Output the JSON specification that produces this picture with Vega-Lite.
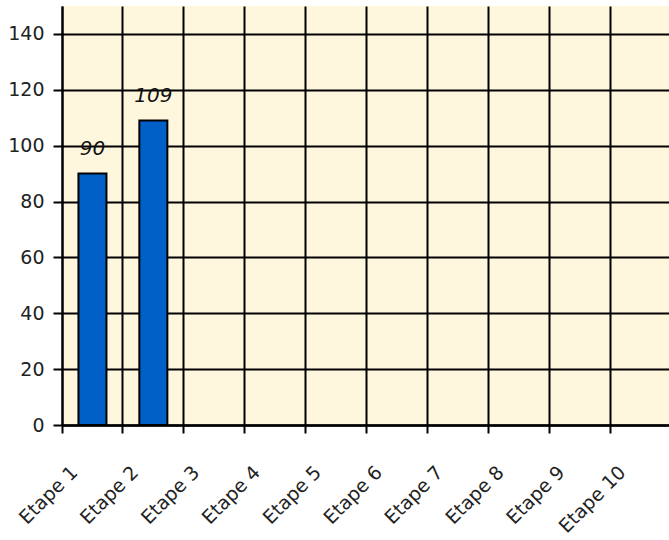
{
  "$schema": "https://vega.github.io/schema/vega-lite/v6.json",
  "autosize": "none",
  "padding": {"left": 62, "top": 6, "right": 0, "bottom": 115},
  "width": 609,
  "height": 419,
  "background": "white",
  "config": {
    "view": {"fill": "#FEF7DD", "stroke": null},
    "font": "DejaVu Sans"
  },
  "data": {
    "values": [
      {"etape": "Etape 1", "valeur": 90},
      {"etape": "Etape 2", "valeur": 109},
      {"etape": "Etape 3", "valeur": null},
      {"etape": "Etape 4", "valeur": null},
      {"etape": "Etape 5", "valeur": null},
      {"etape": "Etape 6", "valeur": null},
      {"etape": "Etape 7", "valeur": null},
      {"etape": "Etape 8", "valeur": null},
      {"etape": "Etape 9", "valeur": null},
      {"etape": "Etape 10", "valeur": null}
    ]
  },
  "encoding": {
    "x": {
      "field": "etape",
      "type": "nominal",
      "sort": null,
      "scale": {
        "domain": ["Etape 1", "Etape 2", "Etape 3", "Etape 4", "Etape 5", "Etape 6", "Etape 7", "Etape 8", "Etape 9", "Etape 10"],
        "paddingInner": 0,
        "paddingOuter": 0
      },
      "axis": {
        "title": null,
        "bandPosition": 0,
        "grid": true,
        "gridColor": "#000000",
        "gridWidth": 2,
        "gridOpacity": 1,
        "domainColor": "#000000",
        "domainWidth": 2.5,
        "tickColor": "#000000",
        "tickWidth": 2,
        "tickSize": 8,
        "labelAngle": -45,
        "labelAlign": "right",
        "labelBaseline": "middle",
        "labelOffset": -18,
        "labelPadding": 36,
        "labelFontSize": 19,
        "labelColor": "#222222",
        "labelFont": "DejaVu Sans"
      }
    },
    "y": {
      "field": "valeur",
      "type": "quantitative",
      "scale": {"domain": [0, 150], "nice": false},
      "axis": {
        "title": null,
        "values": [0, 20, 40, 60, 80, 100, 120, 140],
        "grid": true,
        "gridColor": "#000000",
        "gridWidth": 2,
        "gridOpacity": 1,
        "domainColor": "#000000",
        "domainWidth": 2,
        "tickColor": "#000000",
        "tickWidth": 2,
        "tickSize": 9,
        "labelPadding": 9,
        "labelFontSize": 19,
        "labelColor": "#222222",
        "labelFont": "DejaVu Sans"
      }
    }
  },
  "layer": [
    {
      "mark": {"type": "bar", "width": {"band": 0.46}, "color": "#0060C8", "stroke": "#000000", "strokeWidth": 2}
    },
    {
      "mark": {"type": "text", "baseline": "alphabetic", "dy": -19, "fontSize": 20, "fontStyle": "italic", "color": "#111111", "font": "DejaVu Sans"},
      "encoding": {"text": {"field": "valeur", "type": "quantitative"}}
    }
  ]
}
